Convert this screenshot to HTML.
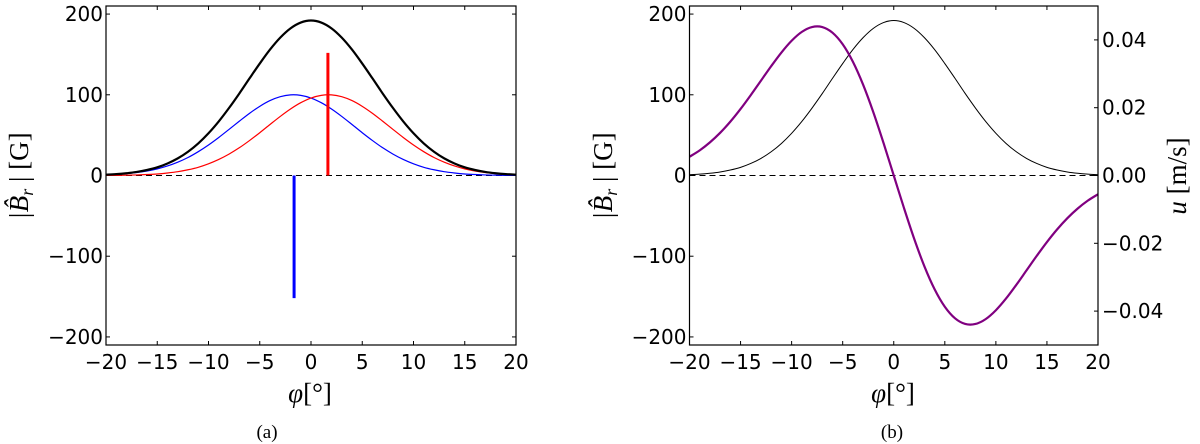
<!DOCTYPE html>
<html><head><meta charset="utf-8"><style>
html,body{margin:0;padding:0;background:#fff;}
svg{display:block;}
text{font-family:"DejaVu Sans","Liberation Sans",sans-serif;}
.tk{font-size:20px;fill:#000;}
.ser{font-family:"Liberation Serif","DejaVu Serif",serif;}
</style></head><body>
<svg id="fig" width="1200" height="444" viewBox="0 0 1200 444" xmlns="http://www.w3.org/2000/svg">
<g id="pa"></g>
<g id="pb"></g>
<text x="28" y="176" class="ser" font-size="27" font-style="italic" text-anchor="middle" transform="rotate(-90 28 176)">|B̂<tspan font-size="18" dy="5">r</tspan><tspan dy="-5" font-style="normal"> | [G]</tspan></text>
<text x="310" y="402" class="ser" font-size="27" text-anchor="middle"><tspan font-style="italic">φ</tspan>[°]</text>
<text x="267" y="438" class="ser" font-size="19" text-anchor="middle">(a)</text>
<text x="612" y="176" class="ser" font-size="27" font-style="italic" text-anchor="middle" transform="rotate(-90 612 176)">|B̂<tspan font-size="18" dy="5">r</tspan><tspan dy="-5" font-style="normal"> | [G]</tspan></text>
<text x="1186" y="176" class="ser" font-size="27" text-anchor="middle" transform="rotate(-90 1186 176)"><tspan font-style="italic">u</tspan> [m/s]</text>
<text x="893" y="402" class="ser" font-size="27" text-anchor="middle"><tspan font-style="italic">φ</tspan>[°]</text>
<text x="892" y="438" class="ser" font-size="19" text-anchor="middle">(b)</text>
</svg>
<script>
const phi = [-20,-19,-18,-17,-16,-15,-14,-13,-12,-11,-10,-9,-8,-7,-6,-5,-4,-3,-2,-1,0,1,2,3,4,5,6,7,8,9,10,11,12,13,14,15,16,17,18,19,20];
const blueB = [0.88,1.46,2.35,3.66,5.56,8.2,11.8,16.5,22.3,29.5,37.8,47.1,57.1,67.2,77.0,85.7,92.8,97.6,99.9,99.3,96.0,90.2,82.4,73.2,63.2,53.0,43.3,34.3,26.5,19.9,14.5,10.2,7.1,4.7,3.1,1.9,1.2,0.7,0.4,0.2,0.1];
const redB = [0.1,0.2,0.4,0.7,1.2,1.9,3.1,4.7,7.1,10.2,14.5,19.9,26.5,34.3,43.3,53.0,63.2,73.2,82.4,90.2,96.0,99.3,99.9,97.6,92.8,85.7,77.0,67.2,57.1,47.1,37.8,29.5,22.3,16.5,11.8,8.2,5.56,3.66,2.35,1.46,0.88];
const totalB = [1.0,1.7,2.8,4.4,6.8,10.1,14.9,21.2,29.4,39.7,52.3,67.0,83.6,101.5,120.3,138.7,156.0,170.8,182.3,189.5,192.0,189.5,182.3,170.8,156.0,138.7,120.3,101.5,83.6,67.0,52.3,39.7,29.4,21.2,14.9,10.1,6.8,4.4,2.8,1.7,1.0];
const velU = [0.00553,0.00742,0.00977,0.01259,0.01589,0.01963,0.02372,0.02799,0.03226,0.03628,0.03975,0.04237,0.04380,0.04379,0.04213,0.03871,0.03355,0.02678,0.01866,0.00958,0,-0.00958,-0.01866,-0.02678,-0.03355,-0.03871,-0.04213,-0.04379,-0.04380,-0.04237,-0.03975,-0.03628,-0.03226,-0.02799,-0.02372,-0.01963,-0.01589,-0.01259,-0.00977,-0.00742,-0.00553];
const redBar = {x:1.65, y0:0, y1:152};
const blueBar = {x:-1.65, y0:0, y1:-152};
const xTicks = [-20,-15,-10,-5,0,5,10,15,20];
const xTickLabels = ['−20','−15','−10','−5','0','5','10','15','20'];
const yTicks = [-200,-100,0,100,200];
const yTickLabels = ['−200','−100','0','100','200'];
const uTicks = [-0.04,-0.02,0,0.02,0.04];
const uTickLabels = ['−0.04','−0.02','0.00','0.02','0.04'];

const NS='http://www.w3.org/2000/svg';
function mk(parent,tag,attrs){const e=document.createElementNS(NS,tag);for(const k in attrs)e.setAttribute(k,attrs[k]);parent.appendChild(e);return e;}
function smooth(pts){let d='M'+pts[0][0].toFixed(2)+','+pts[0][1].toFixed(2);
 for(let i=0;i<pts.length-1;i++){const p0=pts[Math.max(0,i-1)],p1=pts[i],p2=pts[i+1],p3=pts[Math.min(pts.length-1,i+2)];
 const c1=[p1[0]+(p2[0]-p0[0])/6,p1[1]+(p2[1]-p0[1])/6],c2=[p2[0]-(p3[0]-p1[0])/6,p2[1]-(p3[1]-p1[1])/6];
 d+='C'+c1[0].toFixed(2)+','+c1[1].toFixed(2)+' '+c2[0].toFixed(2)+','+c2[1].toFixed(2)+' '+p2[0].toFixed(2)+','+p2[1].toFixed(2);}
 return d;}

function panel(g,L,R,name){
 const T=6,B=345;
 const xs=v=>L+(v+20)/40*(R-L);
 const ys=v=>T+(210-v)/420*(B-T);
 const us=v=>T+(0.05-v)/0.1*(B-T);
 return {xs,ys,us,T,B,L,R};
}
function axes(g,A,rightU,pfx){
 const {xs,ys,us,T,B,L,R}=A;
 xTicks.forEach((v,i)=>{
  let t=mk(g,'line',{x1:xs(v),x2:xs(v),y1:B,y2:B-4,stroke:'#000','stroke-width':1});
  
  
  t=mk(g,'line',{x1:xs(v),x2:xs(v),y1:T,y2:T+4,stroke:'#000','stroke-width':1});
  
  
  const tx=mk(g,'text',{x:xs(v),y:B+24,'text-anchor':'middle',class:'tk'});tx.textContent=xTickLabels[i];
  
  
 });
 yTicks.forEach((v,i)=>{
  let t=mk(g,'line',{x1:L,x2:L+4,y1:ys(v),y2:ys(v),stroke:'#000','stroke-width':1});
  
  
  if(!rightU){t=mk(g,'line',{x1:R,x2:R-4,y1:ys(v),y2:ys(v),stroke:'#000','stroke-width':1});
   
   }
  const tx=mk(g,'text',{x:L-3,y:ys(v)+7,'text-anchor':'end',class:'tk'});tx.textContent=yTickLabels[i];
  
  
 });
 if(rightU){uTicks.forEach((v,i)=>{
  const t=mk(g,'line',{x1:R,x2:R-4,y1:us(v),y2:us(v),stroke:'#000','stroke-width':1});
  
  
  const tx=mk(g,'text',{x:R+4,y:us(v)+7,'text-anchor':'start',class:'tk'});tx.textContent=uTickLabels[i];
  
  
 });}
 const z=mk(g,'line',{x1:L,x2:R,y1:ys(0),y2:ys(0),stroke:'#000','stroke-width':1,'stroke-dasharray':'6,4'});
 
 
}
function frame(g,A,pfx){
 const f=mk(g,'rect',{x:A.L,y:A.T,width:A.R-A.L,height:A.B-A.T,fill:'none',stroke:'#000','stroke-width':1.2});
 
 
}
function curve(g,A,vals,scale,color,w,name){
 const pts=phi.map((p,i)=>[A.xs(p),scale(vals[i])]);
 const p=mk(g,'path',{d:smooth(pts),fill:'none',stroke:color,'stroke-width':w});
 
 
}
function bar(g,A,b,color,name){
 const l=mk(g,'line',{x1:A.xs(b.x),x2:A.xs(b.x),y1:A.ys(b.y0),y2:A.ys(b.y1),stroke:color,'stroke-width':3});
 
 
}
const ga=document.getElementById('pa'), gb=document.getElementById('pb');
const A=panel(ga,106,516,'a'), Bp=panel(gb,689.5,1098,'b');
axes(ga,A,false,'a-');
curve(ga,A,blueB,A.ys,'#0000ff',1.2,'blue-curve');
curve(ga,A,redB,A.ys,'#ff0000',1.2,'red-curve');
curve(ga,A,totalB,A.ys,'#000',2.2,'total-curve');
bar(ga,A,redBar,'#ff0000','red-bar');
bar(ga,A,blueBar,'#0000ff','blue-bar');
frame(ga,A,'a-');
axes(gb,Bp,true,'b-');
curve(gb,Bp,totalB,Bp.ys,'#000',1,'b-field-curve');
curve(gb,Bp,velU,Bp.us,'#800080',2.2,'velocity-curve');
frame(gb,Bp,'b-');
</script>
</body></html>
